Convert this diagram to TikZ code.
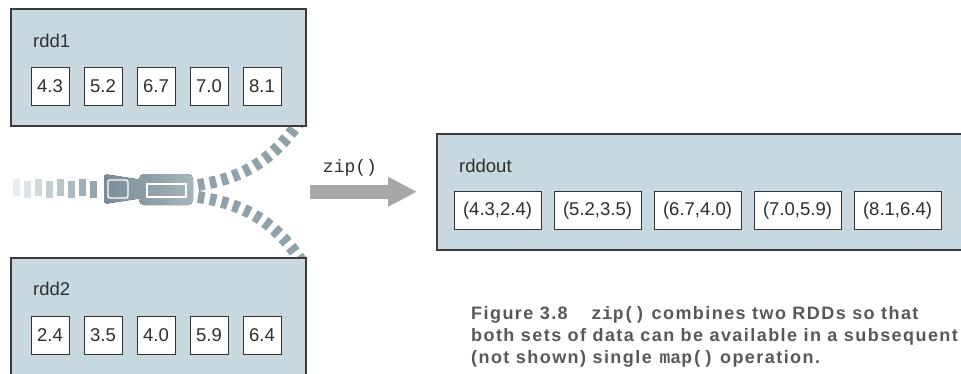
\documentclass[tikz,border=0pt]{standalone}
\usepackage{fontspec}
\setmainfont{Liberation Sans}
\setmonofont{Liberation Mono}
\usetikzlibrary{positioning,arrows.meta,calc}
\definecolor{panelblue}{HTML}{C8D8E0}
\definecolor{edgegray}{HTML}{3C3C3C}
\definecolor{cellgray}{HTML}{333333}
\definecolor{inkgray}{HTML}{2E2E2E}
\definecolor{capgray}{HTML}{585858}
\definecolor{teethgray}{HTML}{8FA2AC}
\definecolor{slidedark}{HTML}{7A8D98}
\definecolor{slidelight}{HTML}{A8B6BE}
\definecolor{arrowgray}{HTML}{A7A7A9}

\begin{document}
\begin{tikzpicture}[
  x=1pt, y=1pt,
  font=\fontsize{18.5}{22}\selectfont,
  panel/.style={draw=edgegray, line width=1.5pt, fill=panelblue, anchor=north west, inner sep=0pt},
  cell/.style={draw=cellgray, line width=1pt, fill=white, text=inkgray, minimum height=38pt, inner sep=0pt},
  title/.style={anchor=base west, inner sep=0pt, text=inkgray},
  teeth/.style={draw=teethgray, line width=12pt, dash pattern=on 6.5pt off 5.5pt},
  bigarrow/.style={draw=arrowgray, line width=14pt, -{Triangle[length=29pt, width=28pt]}},
  caption/.style={anchor=base west, align=left, inner sep=0pt, text=capgray,
    font=\fontsize{18}{22}\selectfont\bfseries\addfontfeature{LetterSpace=8}}
]
\useasboundingbox (0,0) rectangle (961,-373);

% open zipper: two rows of teeth, the slider, the closed part
\draw[teeth] (198,-185) .. controls (245,-178) and (275,-158) .. (302,-118);
\draw[teeth] (198,-197) .. controls (245,-204) and (275,-222) .. (302,-262);
\foreach \i [evaluate=\i as \shade using int(20+11*\i)] in {0,...,7}
  \fill[teethgray!\shade!white] ({13+11*\i},{-179-2*mod(\i,2)}) rectangle +(7,-17);
\fill[left color=slidedark, right color=slidedark!60!slidelight, rounded corners=3pt]
  (104,-174) -- (143,-180) -- (143,-198) -- (104,-204) -- cycle;
\fill[left color=slidedark!70!slidelight, right color=slidelight, rounded corners=5pt]
  (139,-174) rectangle (193,-205);
\draw[white, line width=1.4pt, rounded corners=2pt] (108,-180) rectangle (128,-198);
\draw[white, line width=1.4pt] (147,-184) rectangle (186,-197);

\node[panel, minimum width=295pt, minimum height=117pt] (rdd1) at (10,-8) {};
\node[panel, minimum width=295pt, minimum height=150pt] (rdd2) at (10,-257) {};
\node[panel, minimum width=560pt, minimum height=116pt] (rddout) at (436,-133) {};

\node[title] (rdd1lbl) at (33,-47) {rdd1};
\node[title] (rdd2lbl) at (33,-295) {rdd2};
\node[title] (rddoutlbl) at (459,-172) {rddout};

\foreach \v [count=\i] in {4.3,5.2,6.7,7.0,8.1}
  \node[cell, minimum width=38pt] (a\i) at ({50+53*(\i-1)},-86) {\v};
\foreach \v [count=\i] in {2.4,3.5,4.0,5.9,6.4}
  \node[cell, minimum width=38pt] (b\i) at ({50+53*(\i-1)},-335.5) {\v};
\foreach \a/\b [count=\i] in {4.3/2.4,5.2/3.5,6.7/4.0,7.0/5.9,8.1/6.4}
  \node[cell, minimum width=87pt] (c\i) at ({497.5+100*(\i-1)},-210.5) {(\a,\b)};

\coordinate (ziptail) at ($(rddout.west)+(-126,0)$);
\coordinate (ziphead) at ($(rddout.west)+(-19,0)$);
\draw[bigarrow] (ziptail) -- (ziphead);
\node[anchor=base, inner sep=0pt, text=inkgray, font=\fontsize{18}{22}\ttfamily] (ziplbl) at (350,-172) {zip()};

% base anchor sits on the last line
\node[caption] (cap) at (471,-363)
  {Figure 3.8\hspace{22pt}\texttt{zip()} combines two RDDs so that\\
   both sets of data can be available in a subsequent\\
   (not shown) single \texttt{map()} operation.};
\end{tikzpicture}
\end{document}
